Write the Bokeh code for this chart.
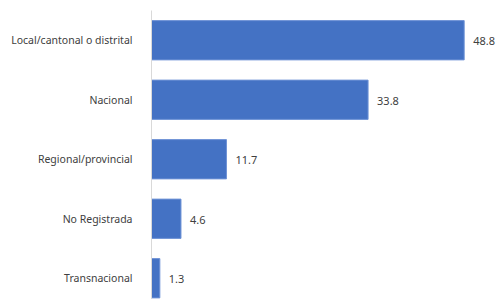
from bokeh.plotting import figure
from bokeh.models import Range1d, FixedTicker, ColumnDataSource
from bokeh.core.properties import value
from bokeh.embed import file_html
from bokeh.resources import INLINE

categories = ["Local/cantonal o distrital", "Nacional", "Regional/provincial", "No Registrada", "Transnacional"]
values = [48.8, 33.8, 11.7, 4.6, 1.3]
value_labels = ["48.8", "33.8", "11.7", "4.6", "1.3"]

pos = list(range(len(categories)))
src = ColumnDataSource(dict(y=pos, v=values, lab=value_labels))

p = figure(width=497, height=299, output_backend="svg", toolbar_location=None,
           x_range=Range1d(0, 54), y_range=Range1d(4.357, -0.5),
           min_border_left=151, min_border_right=0, min_border_top=10, min_border_bottom=0)
p.outline_line_color = None
p.xgrid.visible = False
p.ygrid.visible = False
p.xaxis.visible = False

p.hbar(y="y", right="v", left=0, height=0.66, source=src,
       fill_color="#4472C4", line_color="#6f93d6", line_width=1)
p.text(x="v", y="y", text="lab", source=src, x_offset=9, y_offset=1, text_baseline="middle",
       text_align="left", text_font=value("Noto Sans"), text_font_size="11px",
       text_color="#404040")

ya = p.yaxis[0]
ya.ticker = FixedTicker(ticks=pos)
ya.major_label_overrides = {i: c for i, c in enumerate(categories)}
ya.major_tick_line_color = None
ya.minor_tick_line_color = None
ya.axis_line_color = "#d9d9d9"
ya.major_label_standoff = 13
ya.major_label_text_font = "Noto Sans"
ya.major_label_text_font_size = "10.5px"
ya.major_label_text_color = "#404040"

open("out.html", "w").write(file_html(p, INLINE))
